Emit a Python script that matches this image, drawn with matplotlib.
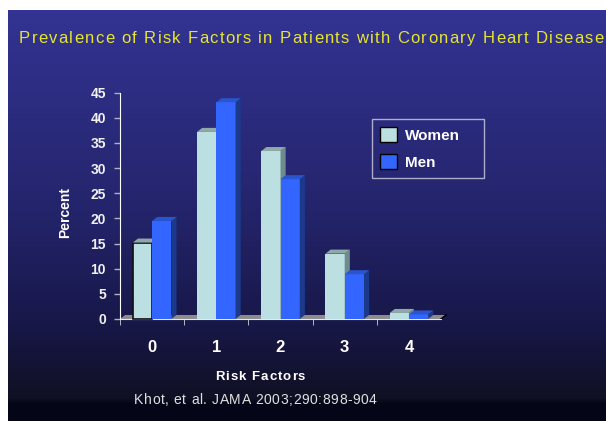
import numpy as np
import matplotlib
matplotlib.use('Agg')
import matplotlib.pyplot as plt
from matplotlib.patches import Polygon, Patch

plt.rcParams['font.family'] = ['Liberation Sans', 'DejaVu Sans']

# prevalence (%) by number of risk factors
risk_factors = ['0', '1', '2', '3', '4']
women = [15.2, 37.2, 33.4, 13.0, 1.2]
men = [19.5, 43.1, 27.8, 8.9, 0.9]

W, H = 606, 421
fig = plt.figure(figsize=(W / 100, H / 100), dpi=100)
fig.patch.set_facecolor('white')

# navy gradient slide background
bg = fig.add_axes([8 / W, 0, 598 / W, 411 / H])
rows = np.arange(10, 421)
stops_y = [10, 200, 320, 398, 403, 421]
stops_c = np.array([[0x33, 0x33, 0x93], [0x25, 0x25, 0x6e], [0x18, 0x18, 0x4a],
                    [0x10, 0x10, 0x24], [0x05, 0x05, 0x18], [0x05, 0x05, 0x18]]) / 255
grad = np.stack([np.interp(rows, stops_y, stops_c[:, k]) for k in range(3)], axis=-1)
bg.imshow(grad[:, None, :], aspect='auto', extent=[0, 1, 0, 1])
bg.axis('off')


def spaced_text(x, y, s, gap, **kw):
    # draw s at figure pixel (x, y) with extra gap pixels between letters
    r = fig.canvas.get_renderer()
    probe = fig.text(0, 0, '|', **kw)
    base = probe.get_window_extent(r).width
    for i, ch in enumerate(s):
        probe.set_text(s[:i] + '|')
        off = probe.get_window_extent(r).width - base
        fig.text((x + off + i * gap) / W, 1 - y / H, ch, **kw)
    probe.remove()


spaced_text(19, 43, 'Prevalence of Risk Factors in Patients with Coronary Heart Disease', 1.3,
            color='#e6e62e', fontsize=12, va='baseline', ha='left')

ax = fig.add_axes([120 / W, (H - 319) / H, 321 / W, 226.3 / H])
ax.set_facecolor('none')
ax.set_xlim(-0.5, 4.5)
ax.set_ylim(0, 45)

x = np.arange(len(risk_factors))
bw = 0.3
dx, dy = 0.08, 0.8

light, light_side, light_top = '#bce0e2', '#6f8c8c', '#8fa9a9'
blue, blue_side, blue_top = '#3366ff', '#1c3a8c', '#2a55d0'

# floor slab
ax.add_patch(Polygon([(-0.5, 0), (4.5, 0), (4.5 + dx, dy), (-0.5 + dx, dy)],
                     closed=True, facecolor='#8c8c8c', edgecolor='none', zorder=2, clip_on=False))
ax.plot([4.5, 4.5 + dx], [0, dy], color='black', lw=1.2, zorder=2, clip_on=False)


def bars3d(left, vals, face, side, top, z):
    bars = ax.bar(left, vals, width=bw, align='edge', color=face, zorder=z, clip_on=False)
    for l, v in zip(left, vals):
        r = l + bw
        ax.add_patch(Polygon([(r, 0), (r + dx, dy), (r + dx, v + dy), (r, v)], closed=True,
                             facecolor=side, edgecolor='none', zorder=z, clip_on=False))
        ax.add_patch(Polygon([(l, v), (l + dx, v + dy), (r + dx, v + dy), (r, v)], closed=True,
                             facecolor=top, edgecolor='none', zorder=z, clip_on=False))
    return bars


wbars = bars3d(x - bw, women, light, light_side, light_top, 3)
bars3d(x, men, blue, blue_side, blue_top, 4)
# first women bar is outlined
wbars[0].set_edgecolor('#101010')
wbars[0].set_linewidth(1.2)

for s in ['top', 'right']:
    ax.spines[s].set_visible(False)
ax.spines['left'].set_color('white')
ax.spines['bottom'].set_color('#e8e8e8')
ax.spines['left'].set_zorder(5)

ax.set_yticks(np.arange(0, 46, 5))
ax.tick_params(axis='y', colors='#b0b0c0', length=4, width=1, labelcolor='#f0f0f0',
               labelsize=10, pad=6)
for t in ax.get_yticklabels():
    t.set_fontweight('bold')

ax.set_xticks(x)
ax.set_xticklabels(risk_factors, fontsize=12, fontweight='bold', color='white')
ax.tick_params(axis='x', length=0, pad=15)
ax.set_xticks(np.arange(-0.5, 4.0, 1.0), minor=True)
ax.tick_params(axis='x', which='minor', length=4, color='#d0d0d0', direction='out')

fig.text(65 / W, 1 - 213 / H, 'Percent', rotation=90, color='white', fontsize=10,
         fontweight='bold', ha='center', va='center')
spaced_text(215, 380, 'Risk Factors', 1.0, color='white', fontsize=9.5, fontweight='bold',
            ha='left', va='baseline')
spaced_text(134, 404, 'Khot, et al. JAMA 2003;290:898-904', 0.6, color='#e0e0e0',
            fontsize=10, ha='left', va='baseline')

leg = ax.legend(handles=[Patch(facecolor=light, edgecolor='black', label='Women'),
                         Patch(facecolor=blue, edgecolor='black', label='Men')],
                loc='upper left',
                bbox_to_anchor=(372 / W, 1 - 175 / H, 112 / W, 56 / H),
                bbox_transform=fig.transFigure, mode='expand', frameon=True, fancybox=False,
                facecolor='none', edgecolor='#d0d0e0', borderaxespad=0,
                borderpad=0.55, handlelength=1.1, handleheight=1.1, handletextpad=0.5,
                labelspacing=0.75, prop={'weight': 'bold', 'size': 11})
leg.get_frame().set_linewidth(1)
for t in leg.get_texts():
    t.set_color('white')

fig.savefig('out.png', dpi=100)
